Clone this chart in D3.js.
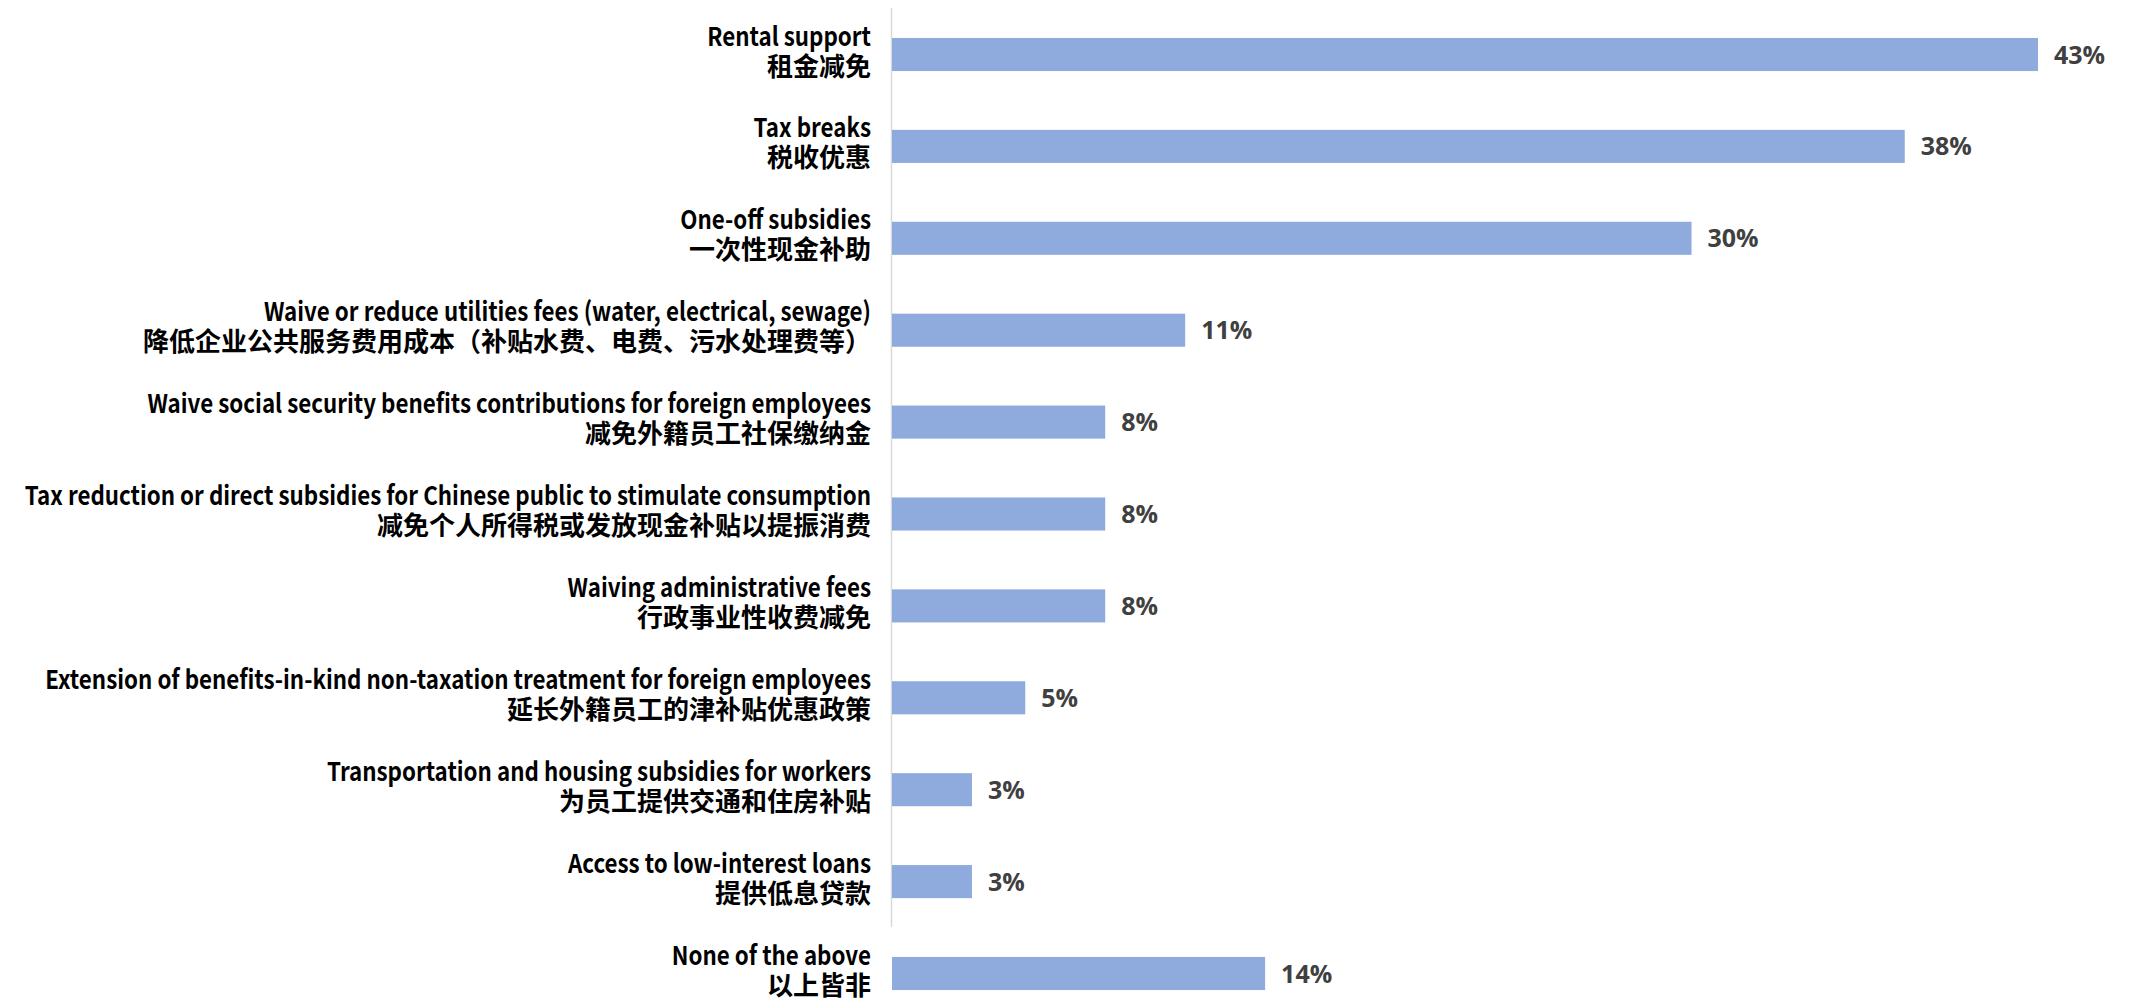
<!DOCTYPE html>
<html>
<head>
<meta charset="utf-8">
<script src="https://cdn.jsdelivr.net/npm/d3@7"></script>
<style>
  html, body { margin: 0; padding: 0; background: #ffffff; }
  svg { display: block; }
</style>
</head>
<body>
<svg id="chart" width="2131" height="999"></svg>
<script>
// ---- data ----
const categoriesEn = [
  "Rental support",
  "Tax breaks",
  "One-off subsidies",
  "Waive or reduce utilities fees (water, electrical, sewage)",
  "Waive social security benefits contributions for foreign employees",
  "Tax reduction or direct subsidies for Chinese public to stimulate consumption",
  "Waiving administrative fees",
  "Extension of benefits-in-kind non-taxation treatment for foreign employees",
  "Transportation and housing subsidies for workers",
  "Access to low-interest loans",
  "None of the above"
];
const categoriesZh = [
  "租金减免",
  "税收优惠",
  "一次性现金补助",
  "降低企业公共服务费用成本（补贴水费、电费、污水处理费等）",
  "减免外籍员工社保缴纳金",
  "减免个人所得税或发放现金补贴以提振消费",
  "行政事业性收费减免",
  "延长外籍员工的津补贴优惠政策",
  "为员工提供交通和住房补贴",
  "提供低息贷款",
  "以上皆非"
];
const values = [0.43, 0.38, 0.30, 0.11, 0.08, 0.08, 0.08, 0.05, 0.03, 0.03, 0.14];
const valueLabels = ["43%", "38%", "30%", "11%", "8%", "8%", "8%", "5%", "3%", "3%", "14%"];

// ---- layout ----
const svg = d3.select("#chart");
const axisX = 892;

const x = d3.scaleLinear().domain([0, 0.43]).range([axisX, 2038]);
const y = d3.scaleBand()
  .domain(d3.range(categoriesEn.length))
  .range([8.55, 1019.45])
  .paddingInner(0.64)
  .paddingOuter(0.32);

const bw = y.bandwidth();

// axis line
svg.append("line")
  .attr("x1", axisX - 0.5).attr("x2", axisX - 0.5)
  .attr("y1", 8).attr("y2", 927)
  .attr("stroke", "#d9d9d9")
  .attr("stroke-width", 1.5);

// bars
svg.append("g").selectAll("rect")
  .data(values)
  .join("rect")
  .attr("x", x(0))
  .attr("y", (d, i) => y(i))
  .attr("width", d => x(d) - x(0))
  .attr("height", bw)
  .attr("fill", "#8faadc");

// value labels
svg.append("g").selectAll("text")
  .data(values)
  .join("text")
  .attr("x", d => x(d) + 16)
  .attr("y", (d, i) => y(i) + bw / 2 + 9)
  .attr("font-family", "'Open Sans', sans-serif")
  .attr("font-weight", 700)
  .attr("font-size", 25)
  .attr("fill", "#404040")
  .text((d, i) => valueLabels[i]);

// category labels
const labelX = 871;
const enScale = 0.86;
const lg = svg.append("g")
  .attr("font-family", "'Noto Sans CJK SC', 'Noto Sans', sans-serif")
  .attr("font-weight", 700)
  .attr("fill", "#000")
  .attr("text-anchor", "end");

categoriesEn.forEach((en, i) => {
  const yc = y(i) + bw / 2;
  lg.append("text")
    .attr("transform", `translate(${labelX},${yc - 9}) scale(${enScale},1)`)
    .attr("font-size", 26)
    .text(en);
  lg.append("text")
    .attr("x", labelX)
    .attr("y", yc + 21)
    .attr("font-size", 26)
    .text(categoriesZh[i]);
});
</script>
</body>
</html>
